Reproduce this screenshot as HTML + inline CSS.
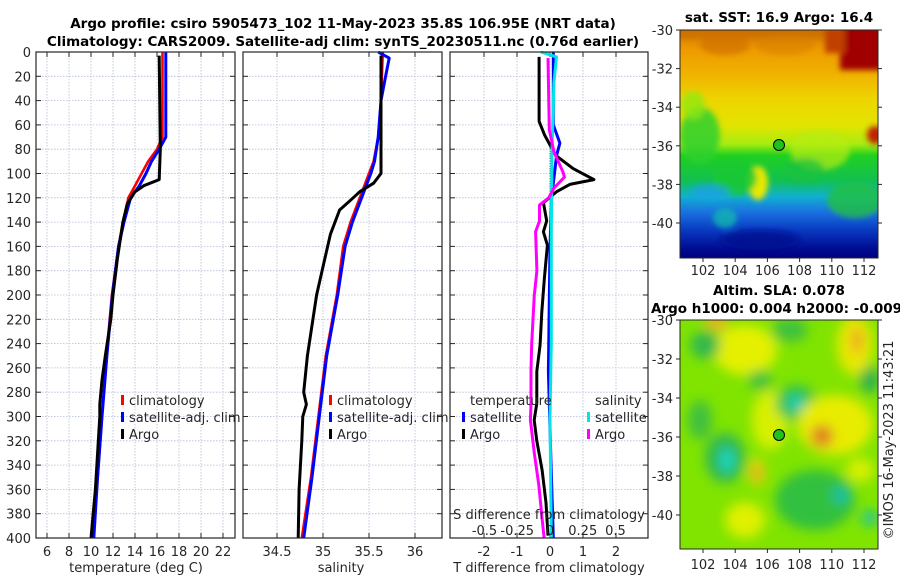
<!DOCTYPE html>
<html><head><meta charset="utf-8">
<style>
html,body{margin:0;padding:0;background:#fff;}
svg{display:block;font-family:"DejaVu Sans","Liberation Sans",sans-serif;}
.tk{font-size:13px;fill:#262626;}
.tt{font-size:13.5px;font-weight:bold;fill:#000;}
</style></head>
<body>
<svg id="chart" width="900" height="580" viewBox="0 0 900 580" xmlns="http://www.w3.org/2000/svg">
<defs>
<linearGradient id="sstGrad" x1="0" y1="0" x2="0" y2="1">
<stop offset="0" stop-color="#d27a00"/><stop offset="0.09" stop-color="#ee9c00"/>
<stop offset="0.2" stop-color="#f0b400"/><stop offset="0.3" stop-color="#eed400"/>
<stop offset="0.42" stop-color="#e2e400"/><stop offset="0.5" stop-color="#a8ec10"/>
<stop offset="0.55" stop-color="#20d020"/><stop offset="0.66" stop-color="#12c050"/>
<stop offset="0.73" stop-color="#10b0d0"/><stop offset="0.8" stop-color="#1a70e0"/>
<stop offset="0.88" stop-color="#0838c0"/><stop offset="0.96" stop-color="#000c90"/>
<stop offset="1" stop-color="#000080"/></linearGradient>
<filter id="blur3" x="-10%" y="-10%" width="120%" height="120%"><feGaussianBlur stdDeviation="3"/></filter>
<filter id="blur6" x="-20%" y="-20%" width="140%" height="140%"><feGaussianBlur stdDeviation="6"/></filter>
<clipPath id="clipTop"><rect x="680" y="30" width="198" height="228"/></clipPath>
<clipPath id="clipBot"><rect x="680" y="320" width="198" height="229"/></clipPath>
</defs>

<text class="tt" x="343" y="28" text-anchor="middle">Argo profile: csiro 5905473_102 11-May-2023 35.8S 106.95E (NRT data)</text>
<text class="tt" x="343" y="46" text-anchor="middle">Climatology: CARS2009. Satellite-adj clim: synTS_20230511.nc (0.76d earlier)</text>

<g id="p1"></g>
<g id="p2"></g>
<g id="p3"></g>

<g>
<text class="tt" x="779" y="22" text-anchor="middle">sat. SST: 16.9 Argo: 16.4</text>
<g clip-path="url(#clipTop)">
<rect x="680" y="30" width="198" height="228" fill="url(#sstGrad)"/>
<g filter="url(#blur3)">
<rect x="675" y="25" width="210" height="14" fill="#c86800" opacity="0.6"/>
<rect x="840" y="25" width="45" height="45" fill="#a00000"/>
<rect x="825" y="28" width="20" height="25" fill="#c04000"/>
<ellipse cx="725" cy="45" rx="25" ry="10" fill="#d07000" opacity="0.7"/>
<ellipse cx="785" cy="45" rx="30" ry="10" fill="#d88000" opacity="0.6"/>
<ellipse cx="700" cy="135" rx="20" ry="28" fill="#30d030" opacity="0.85"/>
<ellipse cx="693" cy="105" rx="12" ry="14" fill="#90e810" opacity="0.8"/>
<ellipse cx="820" cy="150" rx="30" ry="20" fill="#b8ec10" opacity="0.7"/>
<ellipse cx="875" cy="135" rx="8" ry="9" fill="#c02000"/>
<ellipse cx="758" cy="183" rx="10" ry="17" fill="#e8e800"/>
<ellipse cx="735" cy="178" rx="22" ry="18" fill="#18c830" opacity="0.8"/>
<ellipse cx="805" cy="170" rx="20" ry="12" fill="#18c040" opacity="0.7"/>
<ellipse cx="855" cy="200" rx="28" ry="18" fill="#20c040" opacity="0.8"/>
<ellipse cx="710" cy="192" rx="20" ry="8" fill="#20a0e8" opacity="0.7"/>
<ellipse cx="725" cy="218" rx="12" ry="10" fill="#10b8b0" opacity="0.8"/>
<ellipse cx="760" cy="240" rx="40" ry="10" fill="#000a90" opacity="0.8"/>
</g>
</g>
<rect x="680" y="30" width="198" height="228" fill="none" stroke="#262626" stroke-width="1"/>
<circle cx="779" cy="145" r="5.5" fill="#20c020" stroke="#000" stroke-width="1"/>
<g id="mapTopTicks"></g>
</g>

<g>
<text class="tt" x="779" y="295" text-anchor="middle">Altim. SLA: 0.078</text>
<text class="tt" x="651" y="313">Argo h1000: 0.004 h2000: -0.0097</text>
<g clip-path="url(#clipBot)">
<rect x="680" y="320" width="198" height="229" fill="#80e400"/>
<g filter="url(#blur6)">
<ellipse cx="745" cy="350" rx="32" ry="25" fill="#e4f000"/>
<ellipse cx="770" cy="420" rx="18" ry="30" fill="#d8f000"/>
<ellipse cx="717" cy="322" rx="12" ry="8" fill="#f0b020"/>
<ellipse cx="705" cy="345" rx="15" ry="14" fill="#30b850"/>
<ellipse cx="790" cy="330" rx="18" ry="12" fill="#40c040"/>
<ellipse cx="855" cy="345" rx="18" ry="30" fill="#e8e800"/>
<ellipse cx="857" cy="340" rx="5" ry="14" fill="#f09820"/>
<ellipse cx="870" cy="380" rx="10" ry="14" fill="#30b050"/>
<ellipse cx="796" cy="403" rx="20" ry="18" fill="#30c050"/>
<ellipse cx="796" cy="403" rx="8" ry="7" fill="#10d0c0"/>
<ellipse cx="760" cy="380" rx="12" ry="10" fill="#40c040"/>
<ellipse cx="835" cy="425" rx="38" ry="30" fill="#e8ec00"/>
<ellipse cx="822" cy="436" rx="11" ry="11" fill="#e07820"/>
<ellipse cx="725" cy="458" rx="20" ry="25" fill="#30b850"/>
<ellipse cx="727" cy="460" rx="7" ry="12" fill="#10d8c8"/>
<ellipse cx="757" cy="472" rx="8" ry="14" fill="#e8e000"/>
<ellipse cx="757" cy="473" rx="4" ry="9" fill="#f09020"/>
<ellipse cx="815" cy="500" rx="40" ry="30" fill="#30c040"/>
<ellipse cx="841" cy="495" rx="8" ry="8" fill="#10c0b0"/>
<ellipse cx="870" cy="518" rx="8" ry="7" fill="#10c0b0"/>
<ellipse cx="745" cy="520" rx="20" ry="18" fill="#e0f000"/>
<ellipse cx="700" cy="420" rx="12" ry="20" fill="#40c040"/>
<ellipse cx="860" cy="470" rx="14" ry="12" fill="#d8f000"/>
</g>
</g>
<rect x="680" y="320" width="198" height="229" fill="none" stroke="#262626" stroke-width="1"/>
<circle cx="779" cy="435" r="5.5" fill="#20c020" stroke="#000" stroke-width="1"/>
<g id="mapBotTicks"></g>
<text class="tk" transform="translate(893,440) rotate(-90)" text-anchor="middle">©IMOS 16-May-2023 11:43:21</text>
</g>

<script>
const depthTicks = [0,20,40,60,80,100,120,140,160,180,200,220,240,260,280,300,320,340,360,380,400];
const tempTicks = [6,8,10,12,14,16,18,20,22];
const salTicks = [34.5,35,35.5,36];
const salTickLabels = ["34.5","35","35.5","36"];
const tdiffTicks = [-2,-1,0,1,2];
const sdiffTicks = [-0.5,-0.25,0,0.25,0.5];
const sdiffTickLabels = ["-0.5","-0.25","0","0.25","0.5"];

const climTDepth = [0,70,80,90,100,110,120,140,160,200,250,300,350,400];
const climTVal   = [16.5,16.5,16.0,15.2,14.6,14.0,13.4,12.9,12.5,11.9,11.4,11.0,10.6,10.2];
const satTDepth  = [0,70,80,90,100,110,120,140,160,200,250,300,350,400];
const satTVal    = [16.8,16.8,16.2,15.5,15.0,14.4,13.6,13.0,12.5,11.95,11.45,11.0,10.6,10.25];
const argoTDepth = [3,80,105,110,115,125,140,170,200,220,250,270,290,300,330,360,400];
const argoTVal   = [16.2,16.3,16.2,14.8,14.0,13.3,12.9,12.4,12.0,11.8,11.3,11.0,10.8,10.8,10.6,10.4,10.0];

const climSDepth = [0,40,70,90,100,120,140,160,200,250,300,350,400];
const climSVal   = [35.65,35.63,35.6,35.55,35.5,35.4,35.3,35.22,35.15,35.03,34.95,34.87,34.77];
const satSDepth  = [0,5,20,40,70,90,100,120,140,160,200,250,300,350,400];
const satSVal    = [35.6,35.72,35.68,35.63,35.6,35.56,35.52,35.42,35.32,35.24,35.16,35.04,34.96,34.88,34.79];
const argoSDepth = [3,100,108,115,122,130,150,180,200,250,280,290,300,320,360,400];
const argoSVal   = [35.63,35.63,35.55,35.4,35.3,35.18,35.08,34.99,34.93,34.83,34.79,34.82,34.78,34.77,34.74,34.73];

const dTsatDepth  = [0,60,75,85,120,160,263,330,400];
const dTsatVal    = [0.1,0.1,0.3,0.2,0.05,0,-0.05,0.02,0.1];
const dTargoDepth = [4,57,68,85,96,105,109,115,124,139,148,159,186,214,241,263,289,303,320,344,371,398];
const dTargoVal   = [-0.33,-0.33,-0.17,0.17,0.7,1.33,0.6,0.2,-0.2,-0.1,-0.2,-0.08,-0.17,-0.25,-0.3,-0.4,-0.4,-0.48,-0.4,-0.24,-0.12,-0.06];
const dSsatDepth  = [0,4,25,80,150,240,300,400];
const dSsatVal    = [-0.07,0.05,0.03,0.015,0.01,0.01,0.0,0.01];
const dSargoDepth = [5,64,82,99,103,112,120,126,139,148,180,200,240,262,290,303,330,357,384,400];
const dSargoVal   = [-0.015,-0.005,0.03,0.1,0.11,0.03,-0.01,-0.08,-0.08,-0.11,-0.10,-0.12,-0.14,-0.145,-0.145,-0.15,-0.12,-0.085,-0.06,-0.045];

const mapLatTicks = [-30,-32,-34,-36,-38,-40];
const mapLonTicks = [102,104,106,108,110,112];

const NS = "http://www.w3.org/2000/svg";
const yD = d => 52 + d * 1.215;
const xT = t => 47 + (t - 6) * 11;
const xS = s => 277 + (s - 34.5) * 92;
const xDT = v => 550 + v * 33;
const xDS = v => 550 + v * 131;
const TOP = 52, BOT = 538;

function mk(parent, tag, attrs) {
  const el = document.createElementNS(NS, tag);
  for (const k in attrs) el.setAttribute(k, attrs[k]);
  parent.appendChild(el);
  return el;
}
function txt(parent, x, y, s, anchor) {
  const t = mk(parent, "text", {x: x, y: y, class: "tk", "text-anchor": anchor || "middle"});
  t.textContent = s;
  return t;
}
function panelFrame(g, x0, x1, xticks, xf) {
  depthTicks.forEach(d => {
    const l = mk(g, "line", {x1: x0, x2: x1, y1: yD(d), y2: yD(d), stroke: "#b4bcd8", "stroke-width": 0.8, "stroke-dasharray": "1.5,1.5"});
    
    
    mk(g, "line", {x1: x0, x2: x0 + 5, y1: yD(d), y2: yD(d), stroke: "#262626", "stroke-width": 1});
    mk(g, "line", {x1: x1 - 5, x2: x1, y1: yD(d), y2: yD(d), stroke: "#262626", "stroke-width": 1});
  });
  xticks.forEach(v => {
    const l = mk(g, "line", {x1: xf(v), x2: xf(v), y1: TOP, y2: BOT, stroke: "#b4bcd8", "stroke-width": 0.8, "stroke-dasharray": "1.5,1.5"});
    
    
    mk(g, "line", {x1: xf(v), x2: xf(v), y1: BOT - 5, y2: BOT, stroke: "#262626", "stroke-width": 1});
    mk(g, "line", {x1: xf(v), x2: xf(v), y1: TOP, y2: TOP + 5, stroke: "#262626", "stroke-width": 1});
  });
}
function frame(g, x0, x1) {
  const r = mk(g, "rect", {x: x0, y: TOP, width: x1 - x0, height: BOT - TOP, fill: "none", stroke: "#262626", "stroke-width": 1.2});
  
  
}
function series(g, depths, vals, xf, color, w, name) {
  const pts = depths.map((d, i) => xf(vals[i]).toFixed(1) + "," + yD(d).toFixed(1)).join(" ");
  const p = mk(g, "polyline", {points: pts, fill: "none", stroke: color, "stroke-width": w, "stroke-linejoin": "round"});
  
  
}
function legendEntry(g, x, y, color, label, name) {
  const e = mk(g, "g", {});
  
  
  mk(e, "rect", {x: x, y: y - 10, width: 3, height: 10, fill: color});
  txt(e, x + 8, y, label, "start");
}

const p1 = document.getElementById("p1");
panelFrame(p1, 36, 235, tempTicks, xT);
series(p1, climTDepth, climTVal, xT, "#ff0000", 2.6, "climatology-temperature-line");
series(p1, satTDepth, satTVal, xT, "#0000ff", 3, "satellite-temperature-line");
series(p1, argoTDepth, argoTVal, xT, "#000000", 3, "argo-temperature-line");
frame(p1, 36, 235);
depthTicks.forEach(d => {
  const t = txt(p1, 31, yD(d) + 5, String(d), "end");
  
  
});
tempTicks.forEach(v => {
  const t = txt(p1, xT(v), 556, String(v));
  
  
});
const t1 = txt(p1, 136, 572, "temperature (deg C)");


legendEntry(p1, 121, 405, "#ff0000", "climatology", "legend-climatology");
legendEntry(p1, 121, 422, "#0000ff", "satellite-adj. clim", "legend-satellite");
legendEntry(p1, 121, 439, "#000000", "Argo", "legend-argo");

const p2 = document.getElementById("p2");
panelFrame(p2, 243, 442, salTicks, xS);
series(p2, climSDepth, climSVal, xS, "#ff0000", 2.6, "climatology-salinity-line");
series(p2, satSDepth, satSVal, xS, "#0000ff", 3, "satellite-salinity-line");
series(p2, argoSDepth, argoSVal, xS, "#000000", 3, "argo-salinity-line");
frame(p2, 243, 442);
salTicks.forEach((v, i) => {
  const t = txt(p2, xS(v), 556, salTickLabels[i]);
  
  
});
const t2 = txt(p2, 341, 572, "salinity");


legendEntry(p2, 329, 405, "#ff0000", "climatology", "legend-climatology");
legendEntry(p2, 329, 422, "#0000ff", "satellite-adj. clim", "legend-satellite");
legendEntry(p2, 329, 439, "#000000", "Argo", "legend-argo");

const p3 = document.getElementById("p3");
panelFrame(p3, 450, 648, tdiffTicks, xDT);
mk(p3, "line", {x1: 550, x2: 550, y1: yD(75), y2: yD(140), stroke: "#555", "stroke-width": 1, "stroke-dasharray": "1,1.5"});
series(p3, dTargoDepth, dTargoVal, xDT, "#000000", 3, "argo-temperature-diff-line");
series(p3, dTsatDepth, dTsatVal, xDT, "#0000ff", 3, "satellite-temperature-diff-line");
series(p3, dSsatDepth, dSsatVal, xDS, "#00e5e5", 3, "satellite-salinity-diff-line");
series(p3, dSargoDepth, dSargoVal, xDS, "#ff00ff", 3, "argo-salinity-diff-line");
frame(p3, 450, 648);
tdiffTicks.forEach(v => {
  const t = txt(p3, xDT(v), 556, String(v));
  
  
});
sdiffTicks.forEach((v, i) => {
  const t = txt(p3, xDS(v), 535, sdiffTickLabels[i]);
  
  
});
const t3 = txt(p3, 549, 519, "S difference from climatology");


const t4 = txt(p3, 549, 572, "T difference from climatology");


const lh1 = txt(p3, 470, 405, "temperature", "start");


const lh2 = txt(p3, 595, 405, "salinity", "start");


legendEntry(p3, 462, 422, "#0000ff", "satellite", "legend-temperature-satellite");
legendEntry(p3, 462, 439, "#000000", "Argo", "legend-temperature-argo");
legendEntry(p3, 587, 422, "#00e5e5", "satellite", "legend-salinity-satellite");
legendEntry(p3, 587, 439, "#ff00ff", "Argo", "legend-salinity-argo");

function mapTicks(gid, y0, y1, latScale, labY) {
  const g = document.getElementById(gid);
  const lonX = lon => 703 + (lon - 102) * 16.1;
  mapLatTicks.forEach(lat => {
    const y = latScale(lat);
    mk(g, "line", {x1: 680, x2: 676, y1: y, y2: y, stroke: "#262626"});
    mk(g, "line", {x1: 878, x2: 882, y1: y, y2: y, stroke: "#262626"});
    const t = txt(g, 673, y + 5, String(lat), "end");
    
    
  });
  mapLonTicks.forEach(lon => {
    const x = lonX(lon);
    mk(g, "line", {x1: x, x2: x, y1: y1, y2: y1 + 4, stroke: "#262626"});
    const t = txt(g, x, labY, String(lon));
    
    
  });
}
mapTicks("mapTopTicks", 30, 258, lat => 30 + (-30 - lat) * 19.3, 275);
mapTicks("mapBotTicks", 320, 549, lat => 320 + (-30 - lat) * 19.5, 569);
</script>
</svg>
</body></html>
